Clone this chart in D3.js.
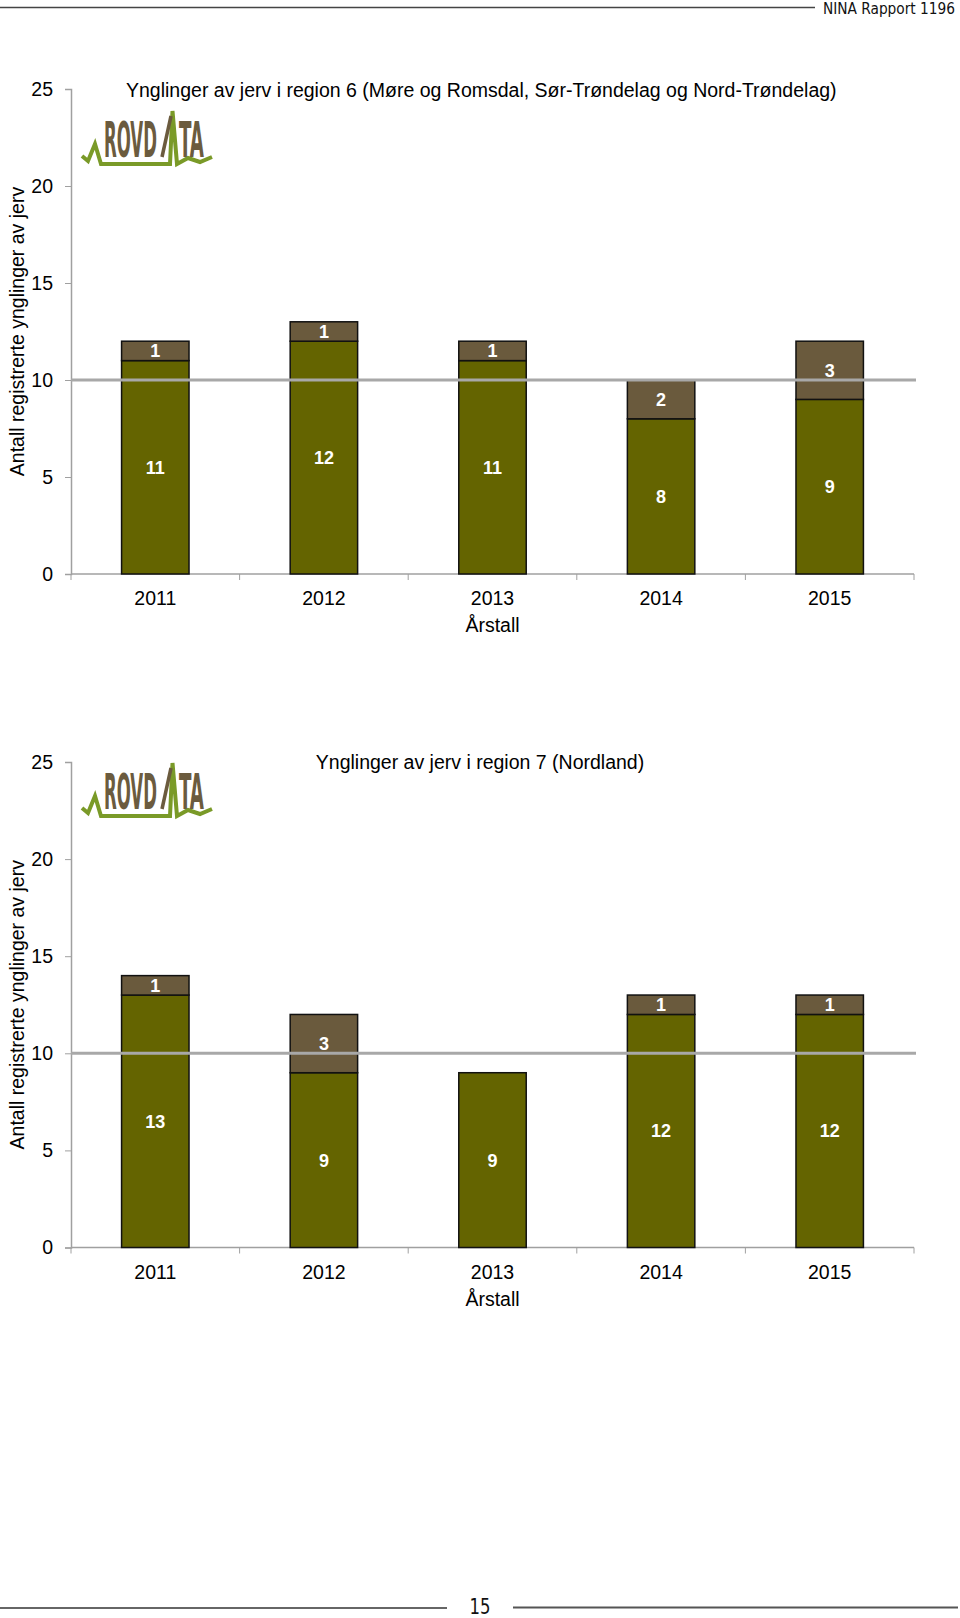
<!DOCTYPE html>
<html>
<head>
<meta charset="utf-8">
<script src="https://cdn.jsdelivr.net/npm/d3@7"></script>
<style>
  html, body { margin: 0; padding: 0; background: #fff; }
  svg { display: block; }
  text { font-family: "Liberation Sans", Arial, sans-serif; }
</style>
</head>
<body>
<svg id="page" width="960" height="1618"></svg>
<script>
// ---- data ----
const years = ["2011", "2012", "2013", "2014", "2015"];
const region6Base = [11, 12, 11, 8, 9];
const region6Top = [1, 1, 1, 2, 3];
const region7Base = [13, 9, 9, 12, 12];
const region7Top = [1, 3, 0, 1, 1];
const yTicks = [0, 5, 10, 15, 20, 25];
const referenceLevel = 10;
const title6 = "Ynglinger av jerv i region 6 (Møre og Romsdal, Sør-Trøndelag og Nord-Trøndelag)";
const title7 = "Ynglinger av jerv i region 7 (Nordland)";
const yTitle = "Antall registrerte ynglinger av jerv";
const xTitle = "Årstall";

const GREEN = "#646400", BROWN = "#6a5a3d", LINEGREY = "#a8a8a8", AXIS = "#a0a0a0";
const FS = "19.5px";
const svg = d3.select("#page");
const NARROW = "'Liberation Sans Narrow', 'DejaVu Sans Condensed', sans-serif";

// header / footer
svg.append("line").attr("x1", 0).attr("x2", 815).attr("y1", 7.5).attr("y2", 7.5)
  .attr("stroke", "#444").attr("stroke-width", 1.5);
svg.append("text").attr("x", 955).attr("y", 14).attr("text-anchor", "end")
  .attr("textLength", 132).attr("lengthAdjust", "spacingAndGlyphs")
  .style("font-family", NARROW)
  .style("font-size", "16px").attr("fill", "#111").text("NINA Rapport 1196");
svg.append("line").attr("x1", 0).attr("x2", 447).attr("y1", 1608).attr("y2", 1608)
  .attr("stroke", "#333").attr("stroke-width", 1.5);
svg.append("line").attr("x1", 513).attr("x2", 958).attr("y1", 1607.5).attr("y2", 1607.5)
  .attr("stroke", "#555").attr("stroke-width", 2);
svg.append("text").attr("x", 480).attr("y", 1614).attr("text-anchor", "middle")
  .attr("textLength", 21).attr("lengthAdjust", "spacingAndGlyphs")
  .style("font-family", NARROW)
  .style("font-size", "21px").attr("fill", "#111").text("15");

function fitText(g, str, x, y, width) {
  const t = g.append("text").style("font-family", NARROW)
    .style("font-size", "50px").style("font-weight", "bold").attr("fill", "#6b5b3e").text(str);
  const w = t.node().getComputedTextLength() || width;
  t.attr("transform", `translate(${x},${y}) scale(${width / w},1)`);
}

function logo(g) {
  const pts = [[82,156],[88,161],[95,144],[101,164],[170,164],[172.5,111],[177,164],[188,158],[200,162],[212,157]];
  g.append("path").attr("d", d3.line()(pts)).attr("fill", "none")
    .attr("stroke", "#7a9a28").attr("stroke-width", 4).attr("stroke-linejoin", "miter");
  fitText(g, "ROVD", 104, 157, 53);
  g.append("line").attr("x1", 162).attr("y1", 157).attr("x2", 171).attr("y2", 116)
    .attr("stroke", "#6b5b3e").attr("stroke-width", 3.5);
  fitText(g, "TA", 179, 157, 25);
}

function chart(cfg) {
  const g = svg.append("g");
  const x = d3.scaleBand().domain(years).range([71, 914]).paddingInner(0.6).paddingOuter(0.3);
  const xb = d3.scaleBand().domain(years).range([71, 914]);
  const y = d3.scaleLinear().domain([0, 25]).range([cfg.y0, cfg.y25]);

  // y axis
  const ya = g.append("g").attr("transform", "translate(71,0)")
    .call(d3.axisLeft(y).tickValues(yTicks).tickSize(6).tickPadding(12));
  ya.select(".domain").attr("stroke", AXIS).attr("stroke-width", 1.5);
  ya.selectAll(".tick line").attr("stroke", AXIS);
  ya.selectAll(".tick text").style("font-size", FS).style("font-family", "'Liberation Sans', Arial, sans-serif").attr("fill", "#000");

  // x axis
  const xa = g.append("g").attr("transform", `translate(0,${cfg.y0})`);
  xa.append("line").attr("x1", 71).attr("x2", 914).attr("stroke", AXIS).attr("stroke-width", 1.5);
  const bounds = years.map(d => xb(d)).concat([xb(years[years.length - 1]) + xb.bandwidth()]);
  xa.selectAll(".xt").data(bounds).join("line").attr("class", "xt")
    .attr("x1", d => d).attr("x2", d => d).attr("y1", 0).attr("y2", 6).attr("stroke", AXIS);
  xa.selectAll(".xl").data(years).join("text").attr("class", "xl")
    .attr("x", d => x(d) + x.bandwidth() / 2).attr("y", 31).attr("text-anchor", "middle")
    .style("font-size", FS).attr("fill", "#000").text(d => d);
  g.append("text").attr("x", 492.5).attr("y", cfg.y0 + 58).attr("text-anchor", "middle")
    .style("font-size", FS).attr("fill", "#000").text(xTitle);

  // y title
  g.append("text").attr("transform", `translate(24,${(cfg.y0 + cfg.y25) / 2}) rotate(-90)`)
    .attr("text-anchor", "middle").style("font-size", FS).attr("fill", "#000").text(yTitle);

  // title
  g.append("text").attr("x", cfg.titleX).attr("y", cfg.titleY).attr("text-anchor", cfg.titleAnchor)
    .style("font-size", FS).attr("fill", "#000").text(cfg.title);

  const rows = years.map((d, i) => ({ year: d, base: cfg.base[i], top: cfg.top[i] }));
  g.selectAll(".b").data(rows).join("rect").attr("class", "b")
    .attr("x", d => x(d.year)).attr("width", x.bandwidth())
    .attr("y", d => y(d.base)).attr("height", d => y(0) - y(d.base))
    .attr("fill", GREEN).attr("stroke", "#111").attr("stroke-width", 1.5);
  g.selectAll(".t").data(rows.filter(d => d.top > 0)).join("rect").attr("class", "t")
    .attr("x", d => x(d.year)).attr("width", x.bandwidth())
    .attr("y", d => y(d.base + d.top)).attr("height", d => y(d.base) - y(d.base + d.top))
    .attr("fill", BROWN).attr("stroke", "#111").attr("stroke-width", 1.5);

  // reference line
  g.append("line").attr("x1", 71).attr("x2", 916).attr("y1", y(referenceLevel)).attr("y2", y(referenceLevel))
    .attr("stroke", LINEGREY).attr("stroke-width", 3);

  // labels
  g.selectAll(".lb").data(rows).join("text").attr("class", "lb")
    .attr("x", d => x(d.year) + x.bandwidth() / 2).attr("y", d => y(d.base / 2)).attr("dy", "0.36em")
    .attr("text-anchor", "middle").style("font-size", "18px").style("font-weight", "bold")
    .attr("fill", "#fff").text(d => d.base);
  g.selectAll(".lt").data(rows.filter(d => d.top > 0)).join("text").attr("class", "lt")
    .attr("x", d => x(d.year) + x.bandwidth() / 2).attr("y", d => y(d.base + d.top / 2)).attr("dy", "0.36em")
    .attr("text-anchor", "middle").style("font-size", "18px").style("font-weight", "bold")
    .attr("fill", "#fff").text(d => d.top);

  logo(g.append("g").attr("transform", `translate(0,${cfg.logoDy})`));
}

chart({ y0: 574, y25: 89, base: region6Base, top: region6Top, title: title6,
        titleX: 126, titleY: 96.5, titleAnchor: "start", logoDy: 0 });
chart({ y0: 1247.5, y25: 762, base: region7Base, top: region7Top, title: title7,
        titleX: 480, titleY: 769, titleAnchor: "middle", logoDy: 652 });
</script>
</body>
</html>
